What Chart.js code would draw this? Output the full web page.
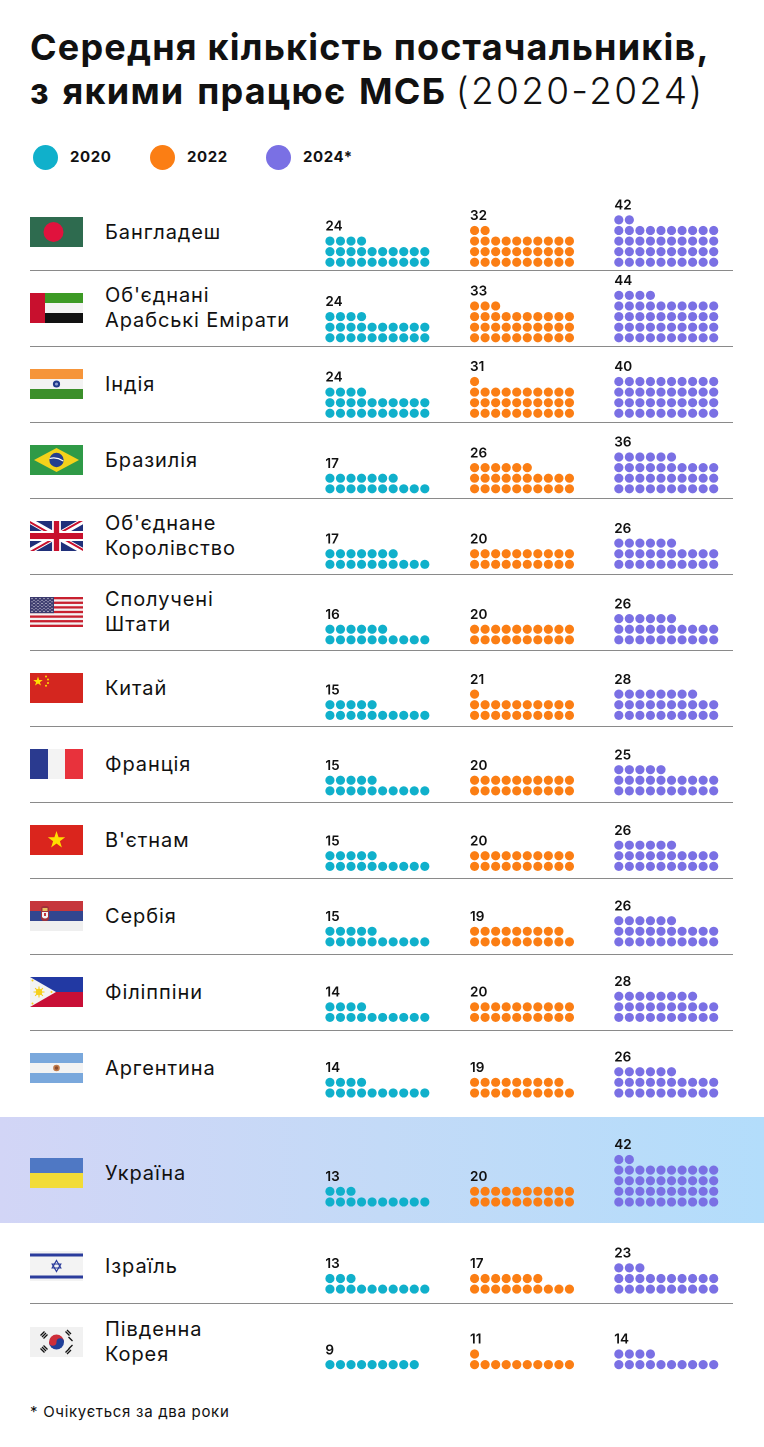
<!DOCTYPE html>
<html lang="uk">
<head>
<meta charset="utf-8">
<script src="https://cdn.jsdelivr.net/npm/chart.js@4.4.1/dist/chart.umd.min.js"></script>
<style>
  html,body{margin:0;padding:0;background:#fff;}
  body{width:764px;height:1447px;position:relative;overflow:hidden;font-family:Inter,"Noto Sans",sans-serif;color:#111;}
  #title{position:absolute;left:30px;top:26px;font-size:36px;font-weight:700;line-height:43px;letter-spacing:1.2px;white-space:nowrap;}
  #title .l2{word-spacing:3px;}
  #title .light{font-weight:300;letter-spacing:2.3px;font-size:37px;}
  .lg-dot{position:absolute;width:25px;height:25px;border-radius:50%;top:145px;}
  .lg-txt{position:absolute;top:148px;font-size:15px;font-weight:700;line-height:18px;letter-spacing:0.6px;}
  .sep{position:absolute;left:30px;width:703px;height:0;border-top:1.5px solid #8a8a8a;}
  .flag{position:absolute;left:30px;width:53px;height:30px;}
  .flag svg{display:block;width:53px;height:30px;}
  .name{position:absolute;left:105px;font-size:20px;line-height:25px;transform:translateY(-50%);white-space:nowrap;letter-spacing:0.9px;}
  #band{position:absolute;left:0;width:764px;top:1117px;height:106px;background:linear-gradient(90deg,#d2d5f6 0%,#c3daf7 50%,#b3ddfb 100%);}
  #foot{position:absolute;left:30px;top:1403px;font-size:15px;line-height:18px;letter-spacing:0.7px;}
  #c{position:absolute;left:0;top:0;pointer-events:none;}
</style>
</head>
<body>
<div id="band"></div>
<div id="title">Середня кількість постачальників,<br><span class="l2">з якими працює МСБ</span> <span class="light">(2020-2024)</span></div>
<div id="legend"></div>
<div id="rows"></div>
<div id="foot">* Очікується за два роки</div>
<canvas id="c" width="764" height="1447"></canvas>
<script>
// ---------------- DATA ----------------
const countries = [
  "Бангладеш",
  "Об'єднані\nАрабські Емірати",
  "Індія",
  "Бразилія",
  "Об'єднане\nКоролівство",
  "Сполучені\nШтати",
  "Китай",
  "Франція",
  "В'єтнам",
  "Сербія",
  "Філіппіни",
  "Аргентина",
  "Україна",
  "Ізраїль",
  "Південна\nКорея"
];
const flagCodes = ["bd","ae","in","br","gb","us","cn","fr","vn","rs","ph","ar","ua","il","kr"];
const years = ["2020", "2022", "2024*"];
const values2020 = [24, 24, 24, 17, 17, 16, 15, 15, 15, 15, 14, 14, 13, 13, 9];
const values2022 = [32, 33, 31, 26, 20, 20, 21, 20, 20, 19, 20, 19, 20, 17, 11];
const values2024 = [42, 44, 40, 36, 26, 26, 28, 25, 26, 26, 28, 26, 42, 23, 14];
const seriesValues = [values2020, values2022, values2024];
const colors = ["#10b0cb", "#fb7e14", "#7a70e4"];
const highlighted = "Україна";

// ---------------- LAYOUT ----------------
const PER_ROW = 10;
const STEP = 10.67;
const GROUP_X = [329.3, 475.7, 621.7];
const DOT_R = 4.6;
function rowBottom(i){
  if (i < 12) return 259.3 + 76 * i;
  return [1205, 1292.7, 1368.7][i - 12];
}
function flagCenter(i){
  if (countries[i] === highlighted) return 1173;
  return rowBottom(i) - 27;
}
const sepLines = [];
for (let i = 0; i < 11; i++) sepLines.push(271 + 76 * i);
sepLines.push(1303.5);

// ---------------- FLAGS ----------------
const FLAGS = {
 bd:`<svg viewBox="0 0 53 30"><rect width="53" height="30" fill="#2e6b4f"/><circle cx="23.5" cy="15" r="10" fill="#e0123d"/></svg>`,
 ae:`<svg viewBox="0 0 53 30"><rect width="53" height="10" fill="#3d9a25"/><rect y="10" width="53" height="10" fill="#f3f3f3"/><rect y="20" width="53" height="10" fill="#111"/><rect width="15" height="30" fill="#c8102e"/></svg>`,
 in:`<svg viewBox="0 0 53 30"><rect width="53" height="10" fill="#f6953a"/><rect y="10" width="53" height="10" fill="#f3f3f3"/><rect y="20" width="53" height="10" fill="#3b8f2a"/><circle cx="26.5" cy="15" r="3.6" fill="#1f3a8a"/><circle cx="26.5" cy="15" r="1.6" fill="#8fa0d0"/></svg>`,
 br:`<svg viewBox="0 0 53 30"><rect width="53" height="30" fill="#2f9a47"/><polygon points="4,15 26.5,3 49,15 26.5,27" fill="#f3d21b"/><circle cx="26.5" cy="15" r="7.2" fill="#243e8e"/><path d="M19.6 13.5 Q26.5 11.5 33.3 16" stroke="#fff" stroke-width="1.1" fill="none"/></svg>`,
 gb:`<svg viewBox="0 0 60 30" preserveAspectRatio="none"><defs><clipPath id="gbt"><path d="M30,15 h30 v15 z v15 h-30 z h-30 v-15 z v-15 h30 z"/></clipPath></defs><rect width="60" height="30" fill="#20307a"/><path d="M0,0 L60,30 M60,0 L0,30" stroke="#fff" stroke-width="6"/><path d="M0,0 L60,30 M60,0 L0,30" clip-path="url(#gbt)" stroke="#c8102e" stroke-width="4"/><path d="M30,0 v30 M0,15 h60" stroke="#fff" stroke-width="10"/><path d="M30,0 v30 M0,15 h60" stroke="#c8102e" stroke-width="6"/></svg>`,
 us:(function(){let s=`<svg viewBox="0 0 53 30"><rect width="53" height="30" fill="#f3f3f3"/>`;for(let k=0;k<13;k+=2){s+=`<rect y="${k*30/13}" width="53" height="${30/13}" fill="#c8202f"/>`;}s+=`<rect width="24" height="${7*30/13}" fill="#3c3b6e"/>`;for(let r=0;r<9;r++){for(let c=0;c<(r%2?5:6);c++){s+=`<circle cx="${2+c*4+(r%2?2:0)}" cy="${1.6+r*1.6}" r="0.55" fill="#fff"/>`;}}return s+`</svg>`;})(),
 cn:`<svg viewBox="0 0 53 30"><rect width="53" height="30" fill="#d4261f"/><polygon points="8,3.5 9.2,7 12.8,7 9.9,9.2 11,12.6 8,10.5 5,12.6 6.1,9.2 3.2,7 6.8,7" fill="#ffde00"/><circle cx="16" cy="3.5" r="1" fill="#ffde00"/><circle cx="18" cy="6.5" r="1" fill="#ffde00"/><circle cx="18" cy="10" r="1" fill="#ffde00"/><circle cx="16" cy="12.8" r="1" fill="#ffde00"/></svg>`,
 fr:`<svg viewBox="0 0 53 30"><rect width="18" height="30" fill="#2a3a8f"/><rect x="18" width="17" height="30" fill="#f3f3f3"/><rect x="35" width="18" height="30" fill="#e8323c"/></svg>`,
 vn:`<svg viewBox="0 0 53 30"><rect width="53" height="30" fill="#da251d"/><polygon points="26.5,6 28.6,12.3 35.2,12.3 29.9,16.2 31.9,22.5 26.5,18.6 21.1,22.5 23.1,16.2 17.8,12.3 24.4,12.3" fill="#ffde00"/></svg>`,
 rs:`<svg viewBox="0 0 53 30"><rect width="53" height="10" fill="#c6363c"/><rect y="10" width="53" height="10" fill="#33468f"/><rect y="20" width="53" height="10" fill="#efefef"/><rect x="11" y="5" width="8" height="15" rx="3" fill="#a0303a"/><rect x="12.5" y="7" width="5" height="3" fill="#e8c060"/><path d="M12 11 h6 v5 q-3 3 -6 0z" fill="#f2f2f2"/><path d="M14 12 h2 v3 h-2z" fill="#c6363c"/></svg>`,
 ph:`<svg viewBox="0 0 53 30"><rect width="53" height="15" fill="#2239a3"/><rect y="15" width="53" height="15" fill="#c80f36"/><polygon points="0,0 26,15 0,30" fill="#f3f3f3"/><g stroke="#f6cf1c" stroke-width="1.1"><path d="M9 9.5 V20.5 M3.5 15 H14.5 M5.1 11.1 L12.9 18.9 M12.9 11.1 L5.1 18.9"/></g><circle cx="9" cy="15" r="3.2" fill="#f6cf1c"/><circle cx="2.5" cy="3.5" r="1" fill="#f6cf1c"/><circle cx="2.5" cy="26.5" r="1" fill="#f6cf1c"/><circle cx="21.5" cy="15" r="1" fill="#f6cf1c"/></svg>`,
 ar:`<svg viewBox="0 0 53 30"><rect width="53" height="30" fill="#7aa8dc"/><rect y="10" width="53" height="10" fill="#f3f3f3"/><circle cx="26.5" cy="15" r="3.3" fill="#c07a4a"/><circle cx="26.5" cy="15" r="1.7" fill="#8a4b2e"/></svg>`,
 ua:`<svg viewBox="0 0 53 30"><rect width="53" height="15" fill="#4f78c4"/><rect y="15" width="53" height="15" fill="#f2dc37"/></svg>`,
 il:`<svg viewBox="0 0 53 30"><rect width="53" height="30" fill="#f3f3f3"/><rect y="2.5" width="53" height="3" fill="#2b3c9c"/><rect y="24.5" width="53" height="3" fill="#2b3c9c"/><polygon points="26.5,9.5 30.8,17 22.2,17" fill="none" stroke="#2b3c9c" stroke-width="1.2"/><polygon points="26.5,20.5 30.8,13 22.2,13" fill="none" stroke="#2b3c9c" stroke-width="1.2"/></svg>`,
 kr:`<svg viewBox="0 0 53 30"><rect width="53" height="30" fill="#f1f1f1"/><path d="M19 15 a7.5 7.5 0 0 1 15 0z" fill="#cd2e3a"/><path d="M19 15 a7.5 7.5 0 0 0 15 0z" fill="#1f3f99"/><path d="M19 15 a3.75 3.75 0 0 0 7.5 0z" fill="#cd2e3a"/><path d="M26.5 15 a3.75 3.75 0 0 1 7.5 0z" fill="#1f3f99"/><g stroke="#111" stroke-width="1.3"><path d="M10.5 8.5 l4 -4 M12 10 l4 -4 M13.5 11.5 l4 -4"/><path d="M35.5 4.5 l4 4 M37 3 l4 4 M38.5 10 l4 4"/><path d="M10.5 21.5 l4 4 M12 20 l4 4 M13.5 18.5 l4 4"/><path d="M35.5 25.5 l4 -4 M37 27 l4 -4 M38.5 22 l4 -4"/></g></svg>`
};

// ---------------- HTML PARTS ----------------
const legend = document.getElementById('legend');
const legendX = [[33,70],[150,187],[266,303]];
years.forEach((y, k) => {
  const d = document.createElement('div');
  d.className = 'lg-dot'; d.style.left = legendX[k][0] + 'px'; d.style.background = colors[k];
  legend.appendChild(d);
  const t = document.createElement('div');
  t.className = 'lg-txt'; t.style.left = legendX[k][1] + 'px'; t.textContent = y;
  legend.appendChild(t);
});
const rowsEl = document.getElementById('rows');
sepLines.forEach(y => {
  const l = document.createElement('div'); l.className = 'sep'; l.style.top = (y - 0.75) + 'px'; rowsEl.appendChild(l);
});
countries.forEach((name, i) => {
  const c = flagCenter(i);
  const f = document.createElement('div'); f.className = 'flag'; f.style.top = (c - 15) + 'px';
  f.innerHTML = FLAGS[flagCodes[i]]; rowsEl.appendChild(f);
  const n = document.createElement('div'); n.className = 'name'; n.style.top = c + 'px';
  n.innerHTML = name.split('\n').join('<br>'); rowsEl.appendChild(n);
});

// ---------------- CHART ----------------
function dotsFor(values, g){
  const pts = [];
  values.forEach((v, i) => {
    const base = rowBottom(i);
    for (let k = 0; k < v; k++) {
      const col = k % PER_ROW, row = Math.floor(k / PER_ROW);
      pts.push({x: GROUP_X[g] + col * STEP, y: base - row * STEP});
    }
  });
  return pts;
}
const valueLabels = {
  id: 'valueLabels',
  afterDatasetsDraw(chart){
    const {ctx, scales:{x, y}} = chart;
    ctx.save();
    ctx.fillStyle = '#111';
    ctx.font = '600 13.5px Inter, "Noto Sans", sans-serif';
    ctx.textBaseline = 'middle';
    ctx.textAlign = 'left';
    seriesValues.forEach((vals, g) => {
      vals.forEach((v, i) => {
        const rows = Math.ceil(v / PER_ROW);
        const topY = rowBottom(i) - (rows - 1) * STEP;
        ctx.fillText(String(v), x.getPixelForValue(GROUP_X[g] - DOT_R), y.getPixelForValue(topY - 14.5));
      });
    });
    ctx.restore();
  }
};
new Chart(document.getElementById('c'), {
  type: 'scatter',
  data: {
    datasets: seriesValues.map((vals, g) => ({
      label: years[g],
      data: dotsFor(vals, g),
      backgroundColor: colors[g],
      borderWidth: 0,
      pointRadius: DOT_R,
      pointHoverRadius: DOT_R
    }))
  },
  options: {
    responsive: false,
    animation: false,
    devicePixelRatio: 2,
    layout: {padding: 0},
    plugins: {legend: {display: false}, tooltip: {enabled: false}},
    events: [],
    scales: {
      x: {type: 'linear', min: 0, max: 764, display: false},
      y: {type: 'linear', min: 0, max: 1447, reverse: true, display: false}
    }
  },
  plugins: [valueLabels]
});
</script>
</body>
</html>
